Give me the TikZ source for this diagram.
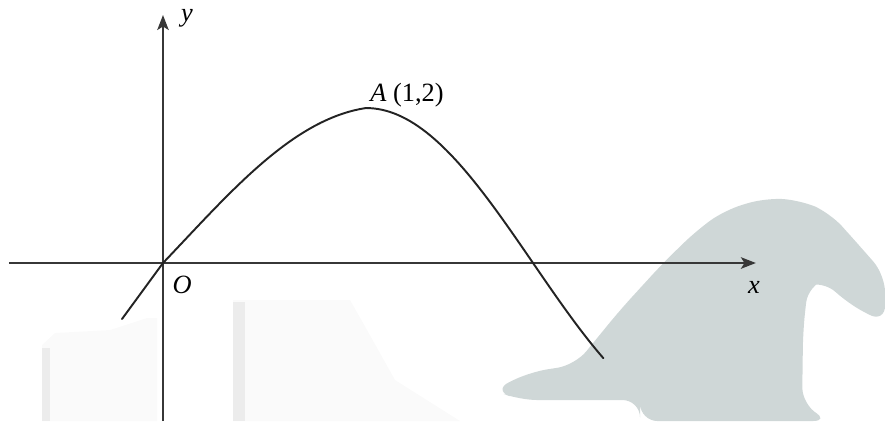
\documentclass[tikz,border=0pt]{standalone}
\usepackage{fontspec}
\setmainfont{Liberation Serif}
\usetikzlibrary{arrows.meta}
\definecolor{AxisGray}{RGB}{55,55,55}
\definecolor{CurveGray}{RGB}{35,35,35}
\definecolor{MarkGray}{RGB}{207,215,215}
\definecolor{PaleGray}{RGB}{250,250,250}
\definecolor{EdgeGray}{RGB}{236,236,236}

\begin{document}
\begin{tikzpicture}[
    x=4.06cm, y=1.55cm,
    axis/.style={-{Stealth[length=8.5pt, width=6.5pt, inset=2pt]}, line width=1.3pt, AxisGray},
    curve/.style={line width=1.1pt, CurveGray, line cap=round, line join=round},
    lbl/.style={font=\fontsize{15}{18}\selectfont\itshape, inner sep=0pt},
    mark/.style={fill=#1, draw=none}
]
    \useasboundingbox (-0.803,-2.039) rectangle (3.557,3.394);

    % faint shapes behind the graph, in pixel steps
    \begin{scope}[shift={(-0.803,3.394)}, x=0.02cm, y=-0.02cm]
        \fill[mark=PaleGray] (42,345) -- (55,333) -- (110,330) -- (147,318) -- (157,318)
            -- (157,421) -- (42,421) -- cycle;
        \fill[mark=EdgeGray] (42,348) rectangle (50,421);
        \fill[mark=PaleGray] (233,300) -- (350,300) -- (367,330) -- (395,380) -- (460,421)
            -- (233,421) -- cycle;
        \fill[mark=EdgeGray] (233,302) rectangle (245,421);
        \fill[mark=MarkGray, rounded corners=10pt] (493,390) -- (530,372) -- (575,365) -- (620,310)
            -- (663,263) -- (697,230) -- (725,210) -- (765,198) -- (800,200) -- (830,213)
            -- (857,243) -- (885,275) -- (885,323) -- (847,303) -- (823,280) -- (808,285)
            -- (803,330) -- (802,405) -- (830,421) -- (640,421) -- (640,400) -- (520,400) -- cycle;
    \end{scope}

    \coordinate (o)  at (0,0);
    \coordinate (xl) at (-0.759,0);
    \coordinate (xr) at (2.921,0);
    \coordinate (yb) at (0,-2.039);
    \coordinate (yt) at (0,3.2);
    \coordinate (tail) at (-0.202,-0.723);

    \draw[axis] (xl) -- (xr);
    \draw[axis] (yb) -- (yt);

    % left tail, rising part up to A, then falling part
    \draw[curve] (tail) -- (o)
        -- plot[domain=0:1, samples=60] (\x, {2*sin(90*\x) - 0.4*\x*(1-\x)})
        -- plot[domain=1:2.17, samples=60] (\x, {2*cos(90*(\x-1)/0.823)});

    \node[lbl] (ylbl) at (0.118,3.161) {y};
    \node[lbl] (olbl) at (0.094,-0.284) {O};
    \node[lbl] (xlbl) at (2.911,-0.310) {x};
    \node[inner sep=0pt, font=\fontsize{15}{18}\selectfont] (albl) at (1.202,2.168) {\textit{A} (1,2)};
\end{tikzpicture}
\end{document}
